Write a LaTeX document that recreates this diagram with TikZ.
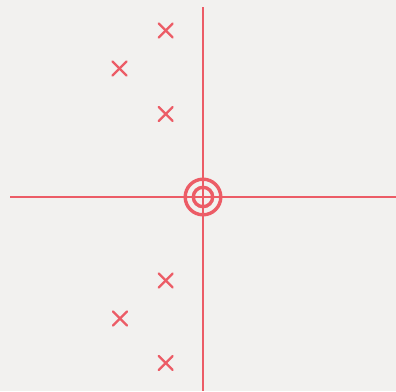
\documentclass[tikz,border=0pt]{standalone}
\definecolor{paper}{RGB}{242,241,239}
\definecolor{pred}{RGB}{236,92,102}
\begin{document}
\begin{tikzpicture}[x=1pt,y=-1pt,
  axis/.style={draw=pred,line width=2.2pt},
  ring/.style={draw=pred,line width=3.4pt},
  pole/.style={draw=pred,line width=2.2pt,line cap=round}]
\fill[paper] (0,0) rectangle (396,391);
\useasboundingbox (0,0) rectangle (396,391);
\coordinate (o) at (203,197);
\coordinate (xl) at (10,197);
\coordinate (xr) at (396,197);
\coordinate (yt) at (203,7);
\coordinate (yb) at (203,391);
\draw[axis] (xl) -- (xr);
\draw[axis] (yt) -- (yb);
\draw[ring] (o) circle (17.8);
\draw[ring] (o) circle (9.7);
\foreach \n/\px/\py in {p1/165.7/30.5, p2/119.5/68.5, p3/165.7/114, p4/165.7/280.5, p5/120/318.5, p6/165.7/363}{
  \coordinate (\n) at (\px,\py);
  \draw[pole] ([shift={(-7,-7)}]\n) -- ([shift={(7,7)}]\n);
  \draw[pole] ([shift={(-7,7)}]\n) -- ([shift={(7,-7)}]\n);
}
\end{tikzpicture}
\end{document}
